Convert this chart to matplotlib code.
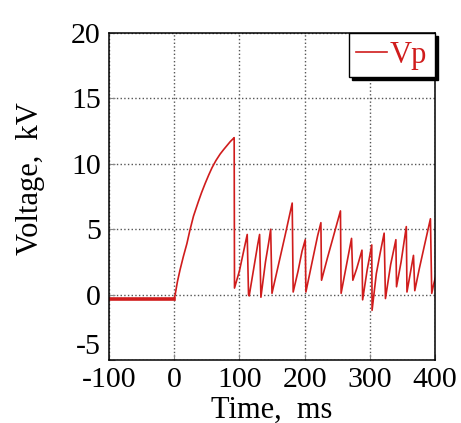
import numpy as np
import matplotlib.pyplot as plt

plt.rcParams['font.family'] = ['Liberation Serif', 'DejaVu Serif']
plt.rcParams['axes.unicode_minus'] = False

# waveform (time in ms, voltage in kV)
t_pre = [-100, -70, -40, -10, 0]
v_pre = [-0.3, -0.3, -0.3, -0.3, -0.3]

t_vp = [0, 1.5, 5, 9, 14, 19.5, 24, 29.6, 37, 42, 47.5, 53, 58, 64, 70.5,
        76, 81, 86, 91, 92,
        92.5, 100, 106, 112, 114, 115, 122, 128, 131, 133, 140, 145, 148,
        150, 160, 170, 181, 182.5, 190, 196, 201, 202, 212, 220, 225,
        226, 235, 245, 255, 256, 264, 272, 274, 280, 288, 289, 296, 303,
        303.5, 310, 316, 322, 324, 332, 340, 341, 348, 356, 357, 362, 367,
        369, 376, 384, 393, 395, 398, 401]
v_vp = [-0.3, 0.0, 1.0, 1.9, 2.9, 3.9, 4.9, 6.0, 7.1, 7.8, 8.5, 9.15, 9.7, 10.25, 10.75,
        11.1, 11.4, 11.7, 11.95, 12.0,
        0.5, 1.8, 3.2, 4.6, 0.0, -0.1, 2.0, 3.8, 4.6, -0.2, 2.5, 4.0, 5.0,
        0.1, 2.3, 4.5, 7.0, 0.2, 1.8, 3.3, 4.2, 0.2, 2.6, 4.5, 5.5,
        1.1, 2.8, 4.6, 6.4, 0.1, 2.2, 4.3, 1.1, 2.0, 3.4, -0.4, 1.9, 3.8,
        -1.2, 1.6, 3.2, 4.7, -0.3, 2.3, 4.2, 0.6, 2.5, 5.2, 0.2, 1.6, 3.0,
        0.3, 2.0, 3.8, 5.8, 0.1, 0.8, 1.4]

x_ticks = [-100, 0, 100, 200, 300, 400]
y_ticks = [-5, 0, 5, 10, 15, 20]

red = '#d01c1c'

fig = plt.figure(figsize=(4.61, 4.23), dpi=100)
ax = fig.add_axes([0.2364, 0.1489, 0.7072, 0.7730])

ax.plot(t_pre, v_pre, color=red, lw=2.6)
ax.plot(t_vp, v_vp, color=red, lw=1.2, label='Vp')

ax.set_xlim(-100, 400)
ax.set_ylim(-5, 20)
ax.set_xticks(x_ticks)
ax.set_yticks(y_ticks)
ax.grid(True, linestyle=':', color='#555555', lw=1)
ax.tick_params(direction='in', length=4, color='#888888', labelsize=21.5)
ax.tick_params(axis='x', pad=5)
ax.tick_params(axis='y', pad=6)
for s in ax.spines.values():
    s.set_linewidth(1.1)

# the -5 label sits above its tick in the original
ax.get_yticklabels()[0].set_verticalalignment('bottom')

ax.set_xlabel('Time,  ms', fontsize=22)
ax.set_ylabel('Voltage,  kV', fontsize=22)
ax.xaxis.set_label_coords(0.5, -0.153)
ax.xaxis.label.set_va('center')
ax.yaxis.set_label_coords(-0.242, 0.555)
ax.yaxis.label.set_va('center')

leg = ax.legend(loc='upper right', borderaxespad=0, fancybox=False,
                shadow={'color': 'black', 'alpha': 1},
                edgecolor='black', fontsize=22, handlelength=1.0, handletextpad=0.1,
                borderpad=0.25, labelcolor=red, framealpha=1)
leg.get_frame().set_linewidth(1.0)

fig.savefig('out.png', dpi=100)
